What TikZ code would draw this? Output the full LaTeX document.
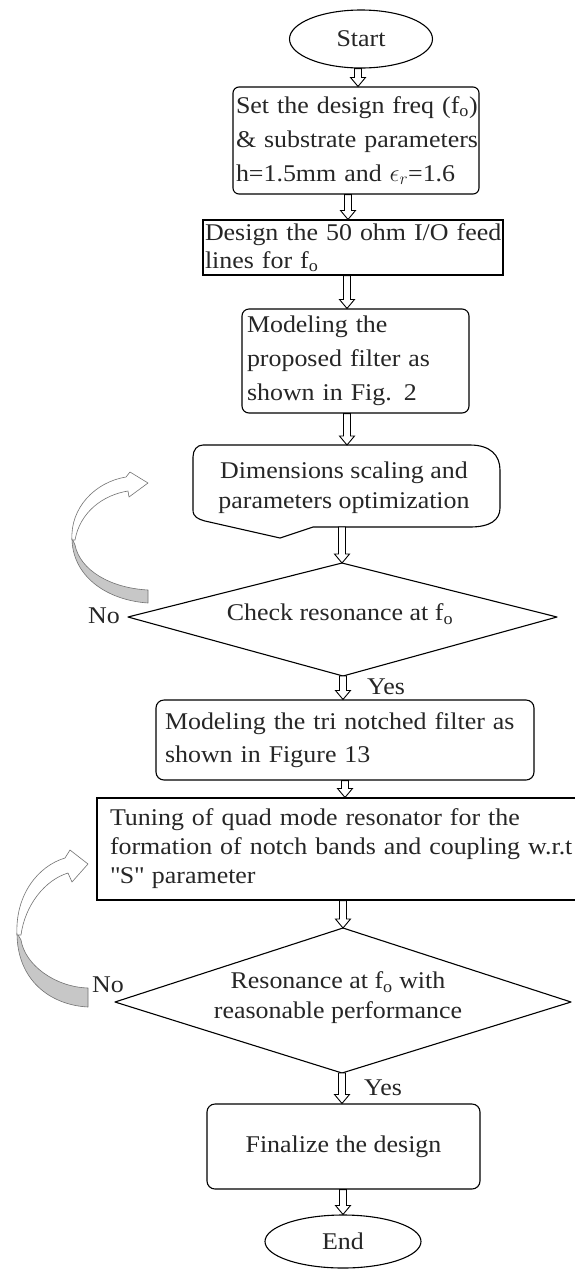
\documentclass[tikz,border=0pt]{standalone}
\usepackage{fontspec}
\setmainfont{Liberation Serif}[FakeStretch=1.08]
\usetikzlibrary{shapes.geometric,calc}

\newcommand{\fo}{f\textsubscript{o}}

\tikzset{
  x=1pt, y=-1pt,
  txt/.style={font=\fontsize{24}{34}\selectfont, text=black!85},
  proc/.style={draw, line width=1.1pt, inner ysep=0pt, align=left, txt},
  rproc/.style={proc, rounded corners=7pt},
  term/.style={ellipse, draw, line width=1.1pt, inner sep=0pt, txt},
  outline/.style={line width=1.1pt, line join=round},
  flow/.style={draw, line width=0.9pt, fill=white, line join=miter,
    to path={let \p1=(\tikztostart), \p2=(\tikztotarget) in
      (\x1-3.5pt,\y1) -- (\x1-3.5pt,\y2+9pt) -- (\x1-7.5pt,\y2+9pt) --
      (\x1,\y2) -- (\x1+7.5pt,\y2+9pt) -- (\x1+3.5pt,\y2+9pt) --
      (\x1+3.5pt,\y1) -- cycle}},
  loopfront/.style={draw=black!55, line width=0.6pt, fill=white, line join=round},
  loopback/.style={draw=black!55, line width=0.6pt, fill=black!22, line join=round}
}

\begin{document}
\begin{tikzpicture}
\useasboundingbox[fill=white] (0,0) rectangle (574,1270);

% terminals and process boxes
\node[term, minimum width=143pt, minimum height=58pt] (start) at (361,39) {Start};

\node[rproc, rounded corners=6pt, inner xsep=3pt, text width=240pt, minimum height=107pt] (box1) at (356,140.5)
  {\mbox{Set the design freq (\fo)}\\\mbox{\& substrate parameters}\\\mbox{h=1.5mm and $\epsilon_r$=1.6}};

\node[proc, font=\fontsize{24}{28}\selectfont, inner xsep=2pt, text width=296pt, minimum height=55pt] (box2) at (353,247.5)
  {\mbox{Design the 50 ohm I/O feed}\\\mbox{lines for \fo}};

\node[rproc, inner xsep=5pt, text width=217pt, minimum height=104pt] (box3) at (355.5,361)
  {\mbox{Modeling the}\\\mbox{proposed filter as}\\\mbox{shown in Fig. 2}};

% optimisation step drawn as a notched document shape
\coordinate (b4t) at (347,445);
\coordinate (b4b) at (342,527);
\draw[outline] (203,445) -- (470,445) .. controls (490,445) and (500,455) .. (500,470)
  -- (500,508) .. controls (500,520) and (490,527) .. (470,527) -- (313,527) -- (280,538)
  -- (205,521) .. controls (198,519) and (193,517) .. (193,510) -- (193,457)
  .. controls (193,450) and (197,445) .. (203,445) -- cycle;
\node[txt, font=\fontsize{24}{30}\selectfont, align=center] (box4) at (344,488)
  {Dimensions scaling and\\parameters optimization};

% first decision
\coordinate (d1t) at (342,563);
\coordinate (d1r) at (557,617);
\coordinate (d1b) at (343,676);
\coordinate (d1l) at (128,617);
\draw[outline] (d1t) -- (d1r) -- (d1b) -- (d1l) -- cycle;
\node[txt] (d1) at (340,614) {Check resonance at \fo};
\node[txt] (no1) at (104,616) {No};
\node[txt] (yes1) at (386,687) {Yes};

\node[rproc, rounded corners=8pt, inner xsep=9pt, text width=360pt, minimum height=80pt, font=\fontsize{24}{33}\selectfont] (box5) at (345,740)
  {\mbox{Modeling the tri notched filter as}\\\mbox{shown in Figure 13}};

\node[proc, font=\fontsize{24}{29}\selectfont, inner xsep=13pt, text width=457pt, minimum height=102pt] (box6) at (338.5,849)
  {\mbox{Tuning of quad mode resonator for the}\\\mbox{formation of notch bands and coupling w.r.t}\\\mbox{\textquotedbl S\textquotedbl{} parameter}};

% second decision
\coordinate (d2t) at (343,928);
\coordinate (d2r) at (571,1002);
\coordinate (d2b) at (342,1073);
\coordinate (d2l) at (115,1002);
\draw[outline] (d2t) -- (d2r) -- (d2b) -- (d2l) -- cycle;
\node[txt, font=\fontsize{24}{30}\selectfont, align=center] (d2) at (338,998)
  {Resonance at \fo{} with\\reasonable performance};
\node[txt] (no2) at (108,985) {No};
\node[txt] (yes2) at (383,1088) {Yes};

\node[rproc, rounded corners=8pt, minimum width=273pt, minimum height=85pt, align=center] (box7) at (343.5,1146.5)
  {Finalize the design};

\node[term, minimum width=156pt, minimum height=53pt] (end) at (343,1241.5) {End};

% hollow flow arrows
\draw[flow] ([xshift=-3pt]start.south) to (box1.north);
\draw[flow] ([xshift=-8pt]box1.south) to (box2.north);
\draw[flow] ([xshift=-6pt]box2.south) to (box3.north);
\draw[flow] ([xshift=-8.5pt]box3.south) to (b4t);
\draw[flow] (b4b) to (d1t);
\draw[flow] (d1b) to (box5.north);
\draw[flow] (box5.south) to (box6.north);
\draw[flow] ([xshift=4.5pt]box6.south) to (d2t);
\draw[flow] (d2b) to (box7.north);
\draw[flow] ([xshift=-0.5pt]box7.south) to (end.north);

% curved ribbon arrows looping back from the "No" branches
\draw[loopback] (72,538) .. controls (72,575) and (105,600) .. (148,603) -- (148,590)
  .. controls (110,588) and (80,570) .. (75,545) -- cycle;
\draw[loopfront] (72,540) .. controls (70,508) and (95,482) .. (126,477) -- (130,472)
  -- (148,483) -- (129,497) -- (128,491) .. controls (103,495) and (80,512) .. (75,540) -- cycle;

\draw[loopback] (17,933) .. controls (17,980) and (50,1005) .. (88,1007) -- (88,988)
  .. controls (55,987) and (25,965) .. (21,940) -- cycle;
\draw[loopfront] (17,935) .. controls (15,895) and (38,866) .. (65,858) -- (70,850)
  -- (88,864) -- (72,882) -- (68,873) .. controls (45,880) and (25,905) .. (21,935) -- cycle;
\end{tikzpicture}
\end{document}
